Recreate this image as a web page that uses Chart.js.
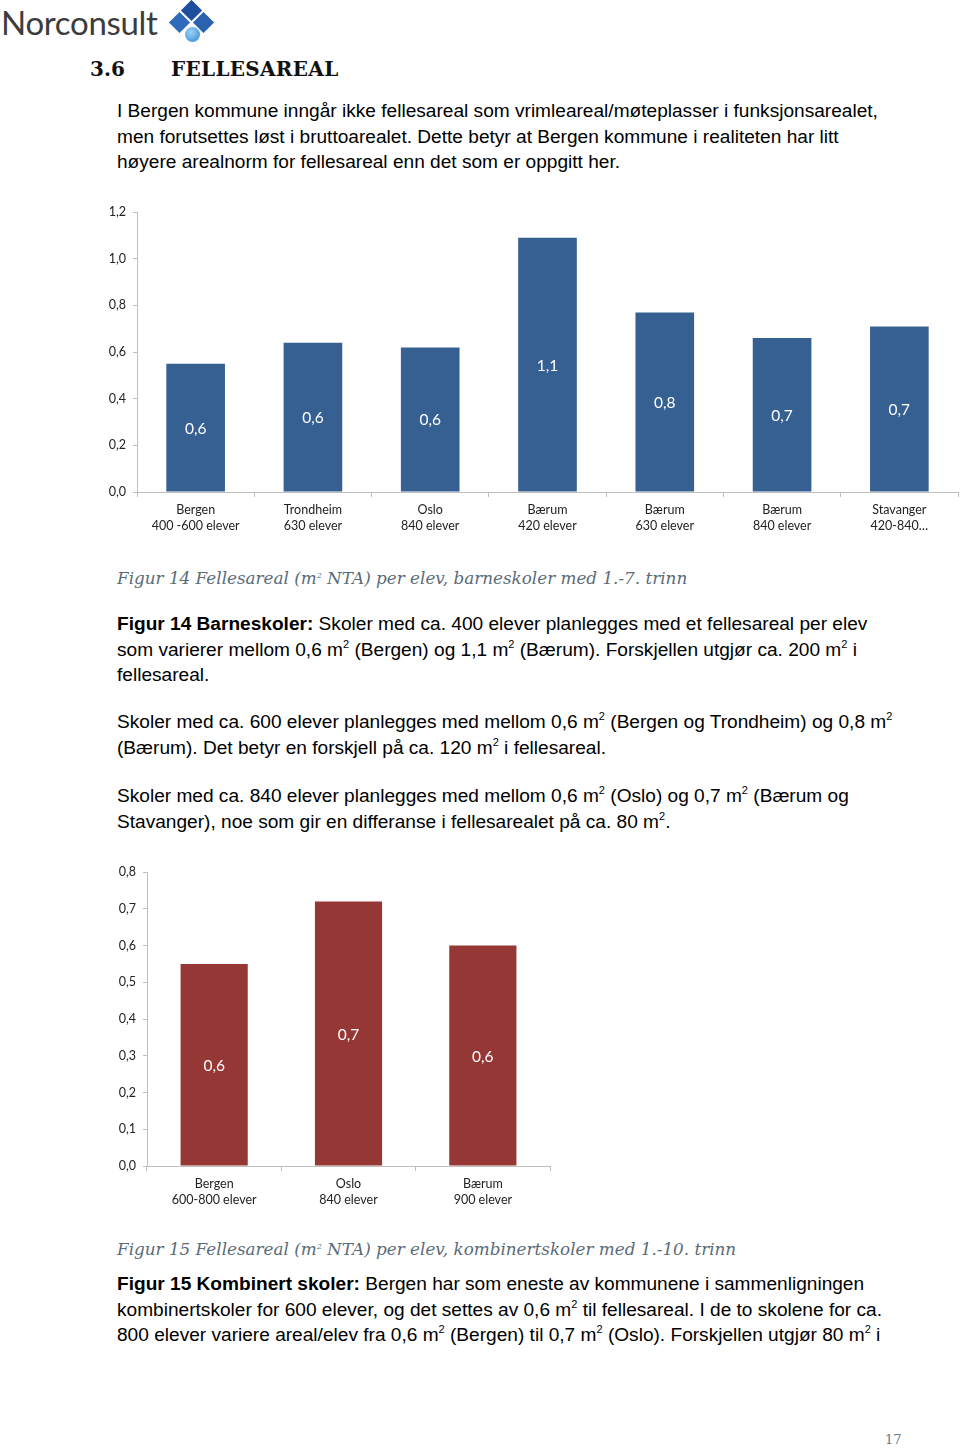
<!DOCTYPE html>
<html>
<head>
<meta charset="utf-8">
<script src="https://cdn.jsdelivr.net/npm/chart.js@4"></script>
<style>
  body { margin: 0; width: 960px; height: 1450px; background: #fff; position: relative; overflow: hidden; font-family: "Liberation Sans", Arial, sans-serif; color: #000; }
  .abs { position: absolute; }
  .logo { left: 1px; top: 2px; font-family: Lato, "Open Sans", sans-serif; font-size: 33px; color: #3c3c3c; letter-spacing: -0.3px; }
  .dia { position: absolute; width: 15px; height: 15px; transform: rotate(45deg); }
  h2 { margin: 0; position: absolute; top: 57px; font-family: "DejaVu Serif", serif; font-weight: bold; font-size: 20px; color: #111; }
  .txt { left: 117px; font-size: 19.1px; line-height: 25.5px; white-space: nowrap; }
  .txt sup { font-size: 11px; line-height: 0; vertical-align: 0; position: relative; top: -8px; }
  .cap { left: 117px; font-family: "DejaVu Serif", "Liberation Serif", serif; font-style: italic; font-size: 16.8px; color: #5a6b78; white-space: nowrap; }
  .cap sup { font-size: 8px; line-height: 0; position: relative; top: -6px; vertical-align: 0; }
  .chartbox { position: absolute; }
</style>
</head>
<body>
<div class="abs logo">Norconsult</div>
<div class="abs" style="left:168px; top:0px; width:48px; height:48px;">
  <div class="dia" style="left:16px; top:3px; background:#1f4e9c;"></div>
  <div class="dia" style="left:4px; top:15px; background:#2f6bb8;"></div>
  <div class="dia" style="left:28px; top:15px; background:#2a62b0;"></div>
  <div style="position:absolute; left:17px; top:27px; width:15px; height:15px; border-radius:50%; background:radial-gradient(circle at 40% 35%, #9fd2f5, #2a86d6);"></div>
</div>
<h2 style="left:90px;">3.6</h2>
<h2 style="left:171px; letter-spacing:0.3px;">FELLESAREAL</h2>

<div class="abs txt" style="top:98px;">
I Bergen kommune inngår ikke fellesareal som vrimleareal/møteplasser i funksjonsarealet,<br>
men forutsettes løst i bruttoarealet. Dette betyr at Bergen kommune i realiteten har litt<br>
høyere arealnorm for fellesareal enn det som er oppgitt her.
</div>

<div class="chartbox" style="left:90px; top:197px; width:870px; height:348px;"><canvas id="chart1"></canvas></div>

<div class="abs cap" style="top:568px;">Figur 14 Fellesareal (m<sup>2</sup> NTA) per elev, barneskoler med 1.-7. trinn</div>

<div class="abs txt" style="top:611px;">
<b>Figur 14 Barneskoler:</b> Skoler med ca. 400 elever planlegges med et fellesareal per elev<br>
som varierer mellom 0,6 m<sup>2</sup> (Bergen) og 1,1 m<sup>2</sup> (Bærum). Forskjellen utgjør ca. 200 m<sup>2</sup> i<br>
fellesareal.
</div>
<div class="abs txt" style="top:709px;">
Skoler med ca. 600 elever planlegges med mellom 0,6 m<sup>2</sup> (Bergen og Trondheim) og 0,8 m<sup>2</sup><br>
(Bærum). Det betyr en forskjell på ca. 120 m<sup>2</sup> i fellesareal.
</div>
<div class="abs txt" style="top:783px;">
Skoler med ca. 840 elever planlegges med mellom 0,6 m<sup>2</sup> (Oslo) og 0,7 m<sup>2</sup> (Bærum og<br>
Stavanger), noe som gir en differanse i fellesarealet på ca. 80 m<sup>2</sup>.
</div>

<div class="chartbox" style="left:100px; top:857px; width:452px; height:358px;"><canvas id="chart2"></canvas></div>

<div class="abs cap" style="top:1239px;">Figur 15 Fellesareal (m<sup>2</sup> NTA) per elev, kombinertskoler med 1.-10. trinn</div>

<div class="abs txt" style="top:1271px;">
<b>Figur 15 Kombinert skoler:</b> Bergen har som eneste av kommunene i sammenligningen<br>
kombinertskoler for 600 elever, og det settes av 0,6 m<sup>2</sup> til fellesareal. I de to skolene for ca.<br>
800 elever variere areal/elev fra 0,6 m<sup>2</sup> (Bergen) til 0,7 m<sup>2</sup> (Oslo). Forskjellen utgjør 80 m<sup>2</sup> i
</div>

<div class="abs" style="left:885px; top:1432px; font-family:'DejaVu Serif', serif; font-size:13px; color:#6b7b88;">17</div>

<script>
// Figur 14 - barneskoler
const schoolLabels1 = [
  ['Bergen', '400 -600 elever'],
  ['Trondheim', '630 elever'],
  ['Oslo', '840 elever'],
  ['Bærum', '420 elever'],
  ['Bærum', '630 elever'],
  ['Bærum', '840 elever'],
  ['Stavanger', '420-840…']
];
const areaPerPupil1 = [0.55, 0.64, 0.62, 1.09, 0.77, 0.66, 0.71];

// Figur 15 - kombinertskoler
const schoolLabels2 = [
  ['Bergen', '600-800 elever'],
  ['Oslo', '840 elever'],
  ['Bærum', '900 elever']
];
const areaPerPupil2 = [0.55, 0.72, 0.60];

const axisGrey = '#bfbfbf';
const tickFont = { family: 'Lato, "Open Sans", sans-serif', size: 12.5, lineHeight: 1.3 };

function fmt(v) {
  return (Math.round(v * 10) / 10).toFixed(1).replace('.', ',');
}

// value labels in the middle of each bar
const valueLabels = {
  id: 'valueLabels',
  afterDatasetsDraw(chart) {
    const ctx = chart.ctx;
    const meta = chart.getDatasetMeta(0);
    ctx.save();
    ctx.fillStyle = '#ffffff';
    ctx.font = '15.5px Lato, "Open Sans", sans-serif';
    ctx.textAlign = 'center';
    ctx.textBaseline = 'middle';
    meta.data.forEach((bar, i) => {
      const v = chart.data.datasets[0].data[i];
      ctx.fillText(fmt(v), bar.x, (bar.y + bar.base) / 2 + 1);
    });
    ctx.restore();
  }
};

function createChart(id, labels, values, color, yMax, step, yWidth, xHeight) {
  const ctx = document.getElementById(id).getContext('2d');
  return new Chart(ctx, {
    type: 'bar',
    data: {
      labels: labels,
      datasets: [{
        data: values,
        backgroundColor: color,
        categoryPercentage: 1,
        barPercentage: 0.5
      }]
    },
    options: {
      responsive: true,
      maintainAspectRatio: false,
      animation: false,
      layout: { padding: { top: 0, right: 2, left: 0, bottom: 0 } },
      scales: {
        x: {
          afterFit: (s) => { s.height = xHeight; },
          border: { color: axisGrey },
          grid: { offset: true, drawOnChartArea: false, drawTicks: true, tickLength: 5, color: axisGrey },
          ticks: { color: '#222', font: tickFont, padding: 5, maxRotation: 0, autoSkip: false }
        },
        y: {
          min: 0,
          max: yMax,
          afterFit: (s) => { s.width = yWidth; },
          border: { color: axisGrey },
          grid: { drawOnChartArea: false, drawTicks: true, tickLength: 4, color: axisGrey },
          ticks: { stepSize: step, color: '#222', font: tickFont, padding: 7, callback: (v) => fmt(v) }
        }
      },
      plugins: {
        legend: { display: false },
        tooltip: { enabled: false }
      }
    },
    plugins: [valueLabels]
  });
}

createChart('chart1', schoolLabels1, areaPerPupil1, '#376092', 1.2, 0.2, 47, 53);
createChart('chart2', schoolLabels2, areaPerPupil2, '#953735', 0.8, 0.1, 47, 49);
</script>
</body>
</html>
